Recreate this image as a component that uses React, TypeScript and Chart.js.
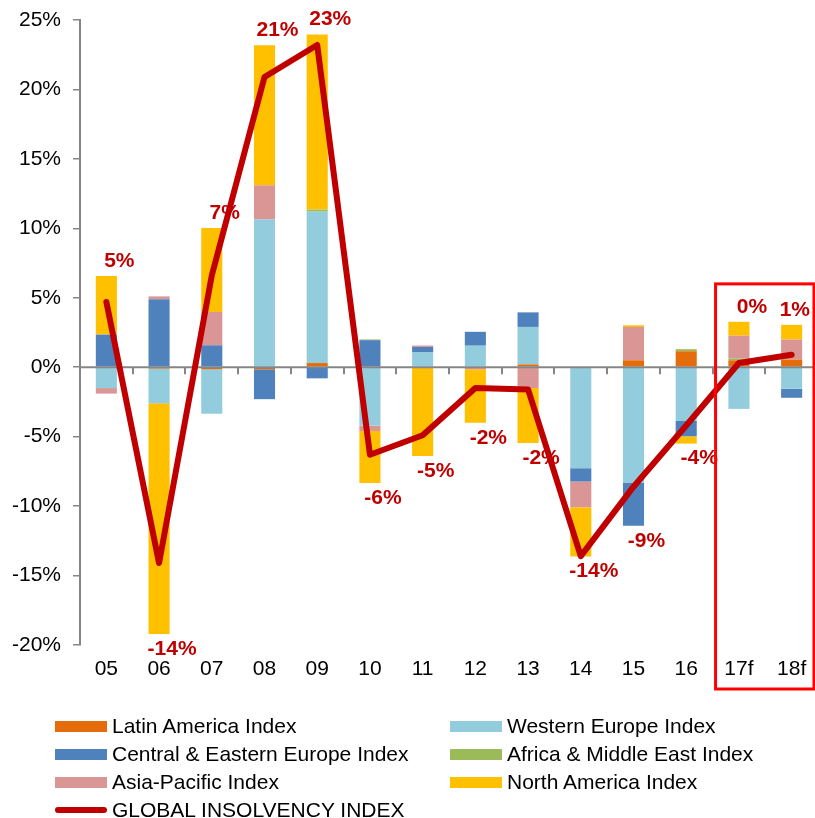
import React, { useEffect, useRef } from "react";
import { Chart, registerables } from "chart.js";
Chart.register(...registerables);

const years = ["05", "06", "07", "08", "09", "10", "11", "12", "13", "14", "15", "16", "17f", "18f"];
const latinAmerica = [0, -0.1, -0.15, -0.15, 0.3, 0, 0, 0, 0.2, 0, 0.5, 1.15, 0.5, 0.55];
const westernEurope = [-1.5, -2.5, -3.2, 10.65, 10.9, -4.2, 1.06, 1.55, 2.7, -7.27, -8.33, -3.87, -3.0, -1.55];
const centralEasternEurope = [2.35, 4.9, 1.58, -2.15, -0.8, 1.95, 0.4, 1.0, 1.05, -0.96, -3.09, -1.1, 0, -0.65];
const africaMiddleEast = [0, 0, 0, 0, 0.15, 0.05, 0, 0, 0, 0, 0, 0.15, 0.12, 0];
const asiaPacific = [-0.4, 0.2, 2.4, 2.45, 0, -0.4, 0.1, -0.15, -1.5, -1.85, 2.4, 0, 1.65, 1.45];
const northAmerica = [4.22, -16.6, 6.05, 10.08, 12.6, -3.73, -6.4, -3.85, -3.95, -3.55, 0.12, -0.53, 1.0, 1.05];
const globalIndex = [4.7, -14.1, 6.6, 20.9, 23.2, -6.3, -4.9, -1.5, -1.6, -13.6, -8.6, -4.2, 0.3, 0.9];
const yTicks = [-20, -15, -10, -5, 0, 5, 10, 15, 20, 25];

const FONT = '"Liberation Sans", Arial, sans-serif';

const barSeries = [
  { label: "Latin America Index", data: latinAmerica, color: "#E46C0A" },
  { label: "Western Europe Index", data: westernEurope, color: "#93CDDD" },
  { label: "Central & Eastern Europe Index", data: centralEasternEurope, color: "#4F81BD" },
  { label: "Africa & Middle East Index", data: africaMiddleEast, color: "#9BBB59" },
  { label: "Asia-Pacific Index", data: asiaPacific, color: "#D99694" },
  { label: "North America Index", data: northAmerica, color: "#FFC000" },
];

const overlayPlugin = {
  id: "overlay",
  beforeDatasetDraw(chart: any, args: any) {
    if (args.meta.type !== "line") return;
    const { ctx, chartArea, scales } = chart;
    const x = scales.x;
    const y = scales.y;
    const y0 = y.getPixelForValue(0);
    ctx.save();
    ctx.strokeStyle = "#868686";
    ctx.lineWidth = 2;
    ctx.beginPath();
    ctx.moveTo(chartArea.left, y0);
    ctx.lineTo(chartArea.right, y0);
    for (let i = 1; i <= years.length; i++) {
      const px = Math.round(x.getPixelForValue(i - 0.5));
      ctx.moveTo(px, y0);
      ctx.lineTo(px, y0 + 7);
    }
    ctx.stroke();
    ctx.font = `bold 21px ${FONT}`;
    ctx.fillStyle = "#C00000";
    ctx.textAlign = "center";
    ctx.textBaseline = "middle";
    years.forEach((_, i) => {
      let pos = 0;
      let neg = 0;
      barSeries.forEach((s) => {
        const v = s.data[i];
        if (v > 0) pos += v;
        else neg += v;
      });
      const g = globalIndex[i];
      const yy = g >= 0 ? y.getPixelForValue(pos) - 15 : y.getPixelForValue(neg) + 15;
      const r = Math.sign(g) * Math.round(Math.abs(g));
      const text = `${r === 0 ? 0 : r}%`;
      const w = ctx.measureText(text).width;
      const cx = Math.min(x.getPixelForValue(i) + 13, 810 - w / 2);
      ctx.fillText(text, cx, yy);
    });
    ctx.restore();
  },
  afterDraw(chart: any) {
    const { ctx, chartArea, scales } = chart;
    const x = scales.x;
    const y = scales.y;
    const left = x.getPixelForValue(years.length - 2 - 0.5) + 3;
    const right = chartArea.right - 4;
    const top = y.getPixelForValue(6);
    const bottom = chartArea.bottom + 44;
    ctx.save();
    ctx.strokeStyle = "#FF0000";
    ctx.lineWidth = 3;
    ctx.strokeRect(left, top, right - left, bottom - top);
    ctx.restore();
  },
};

const legendItems = [
  { label: "Latin America Index", color: "#E46C0A", col: 0, row: 0 },
  { label: "Western Europe Index", color: "#93CDDD", col: 1, row: 0 },
  { label: "Central & Eastern Europe Index", color: "#4F81BD", col: 0, row: 1 },
  { label: "Africa & Middle East Index", color: "#9BBB59", col: 1, row: 1 },
  { label: "Asia-Pacific Index", color: "#D99694", col: 0, row: 2 },
  { label: "North America Index", color: "#FFC000", col: 1, row: 2 },
  { label: "GLOBAL INSOLVENCY INDEX", color: "#C00000", col: 0, row: 3, line: true },
];

export default function App() {
  const ref = useRef<HTMLCanvasElement>(null);
  useEffect(() => {
    const chart = new Chart(ref.current as HTMLCanvasElement, {
      type: "bar",
      data: {
        labels: years,
        datasets: [
          ...barSeries.map((s) => ({
            type: "bar" as const,
            label: s.label,
            data: s.data,
            backgroundColor: s.color,
            borderWidth: 0,
            barPercentage: 0.4,
            categoryPercentage: 1,
            stack: "regions",
            order: 1,
          })),
          {
            type: "line" as const,
            label: "GLOBAL INSOLVENCY INDEX",
            data: globalIndex,
            borderColor: "#C00000",
            backgroundColor: "#C00000",
            borderWidth: 6,
            pointRadius: 0,
            tension: 0,
            borderJoinStyle: "round",
            borderCapStyle: "round",
            stack: "global",
            order: 0,
            clip: false,
          } as any,
        ],
      },
      options: {
        responsive: false,
        animation: false,
        devicePixelRatio: 1,
        layout: { padding: { top: 20, right: 0, bottom: 0, left: 0 } },
        plugins: { legend: { display: false }, tooltip: { enabled: false } },
        scales: {
          x: {
            stacked: true,
            offset: true,
            grid: { display: false, drawTicks: false },
            border: { display: false },
            ticks: { font: { size: 21, family: FONT }, color: "#000", padding: 12, maxRotation: 0, autoSkip: false },
            afterFit: (s: any) => {
              s.height = 818 - 645;
              s.paddingLeft = 0;
              s.paddingRight = 0;
            },
          },
          y: {
            stacked: true,
            min: -20,
            max: 25,
            afterBuildTicks: (s: any) => {
              s.ticks = yTicks.map((v) => ({ value: v }));
            },
            grid: { drawOnChartArea: false, drawTicks: true, tickLength: 7, color: "#868686", lineWidth: 1.5 },
            border: { display: true, color: "#868686", width: 2 },
            ticks: { font: { size: 21, family: FONT }, color: "#000", padding: 12, callback: (v: any) => `${v}%` },
            afterFit: (s: any) => {
              s.width = 80;
              s.paddingTop = 0;
              s.paddingBottom = 0;
            },
          },
        },
      },
      plugins: [overlayPlugin],
    });
    return () => chart.destroy();
  }, []);

  return (
    <div style={{ position: "fixed", left: 0, top: 0, width: 815, height: 818, overflow: "hidden", background: "#fff" }}>
      <canvas ref={ref} width={818} height={818} style={{ position: "absolute", left: 0, top: 0, width: 818, height: 818 }} />
      {legendItems.map((it) => {
        const cx = it.col === 0 ? 55 : 450;
        const cy = 726 + it.row * 28;
        return (
          <div key={it.label}>
            <div
              style={{
                position: "absolute",
                left: cx,
                top: it.line ? cy - 3 : cy - 5.5,
                width: 52,
                height: it.line ? 6 : 11,
                borderRadius: it.line ? 3 : 0,
                background: it.color,
              }}
            />
            <div
              style={{
                position: "absolute",
                left: cx + 57,
                top: cy - 12,
                height: 24,
                lineHeight: "24px",
                fontFamily: FONT,
                fontSize: 21,
                color: "#000",
                whiteSpace: "nowrap",
              }}
            >
              {it.label}
            </div>
          </div>
        );
      })}
    </div>
  );
}
